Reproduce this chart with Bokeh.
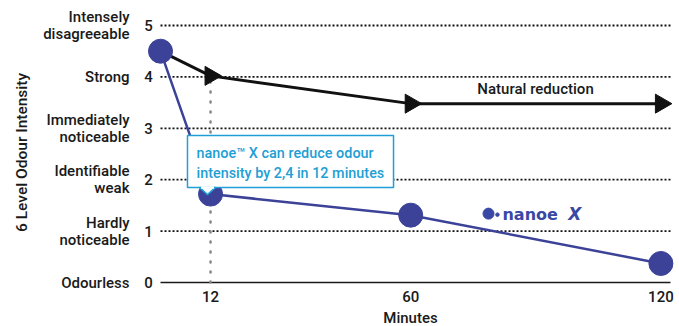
import math
from bokeh.plotting import figure
from bokeh.models import Range1d, Label
from bokeh.embed import file_html
from bokeh.resources import INLINE

# ---- data ----
minutes_ticks = [12, 60, 120]
levels = [0, 1, 2, 3, 4, 5]
level_names = [
    ["Odourless"],
    ["Hardly", "noticeable"],
    ["Identifiable", "weak"],
    ["Immediately", "noticeable"],
    ["Strong"],
    ["Intensely", "disagreeable"],
]
natural_x = [0, 12, 60, 120]
natural_y = [4.5, 4.02, 3.48, 3.48]
nanoe_x = [0, 12, 60, 120]
nanoe_y = [4.5, 1.72, 1.31, 0.37]

# ---- layout (frame covers the whole canvas) ----
W, H = 679, 326
ZERO_X_PX = 160
PX_PER_MIN = 4.17
ZERO_Y_PX = 282
PX_PER_LEVEL = 51.4
x_start = -ZERO_X_PX / PX_PER_MIN
x_end = (W - ZERO_X_PX) / PX_PER_MIN
y_end = ZERO_Y_PX / PX_PER_LEVEL
y_start = -(H - ZERO_Y_PX) / PX_PER_LEVEL
grid_end = 122.3

BLUE = "#3b4298"
CYAN = "#1f9fd5"
DARK = "#1a1a1a"
FONT = "Roboto Medium"

p = figure(width=W, height=H, x_range=Range1d(x_start, x_end), y_range=Range1d(y_start, y_end),
           output_backend="svg", toolbar_location=None,
           min_border_left=0, min_border_right=0, min_border_top=0, min_border_bottom=0)
p.outline_line_color = None
p.xgrid.visible = False
p.ygrid.visible = False
p.xaxis.visible = False
p.yaxis.visible = False
p.background_fill_color = "white"
p.border_fill_color = "white"

# grid (dotted) from x=0 to right edge
grid_levels = levels[1:]
p.segment(x0=[0] * len(grid_levels), y0=grid_levels, x1=[grid_end] * len(grid_levels), y1=grid_levels,
          line_color="#111111", line_width=1.8, line_dash="2 2")
# base axis line
p.segment(x0=[0], y0=[levels[0]], x1=[grid_end], y1=[levels[0]], line_color=DARK, line_width=1.5)

# vertical dotted guide at 12 minutes
p.segment(x0=[minutes_ticks[0]], y0=[levels[0]], x1=[minutes_ticks[0]], y1=[natural_y[1]],
          line_color="#888888", line_width=2.5, line_dash="1 9", line_cap="round")

# natural reduction series
p.line(natural_x, natural_y, line_color="#111111", line_width=3)
p.scatter(natural_x[1:], natural_y[1:], marker="triangle", size=19, angle=-math.pi / 2,
          fill_color="#111111", line_color="#111111")

# nanoe X series
p.line(nanoe_x, nanoe_y, line_color=BLUE, line_width=2.5)
p.scatter(nanoe_x, nanoe_y, marker="circle", size=24, fill_color=BLUE, line_color=BLUE)

# callout box
bx0, bx1, by0, by1 = 6.47, 55.88, 1.85, 2.86
p.quad(left=[bx0], right=[bx1], bottom=[by0], top=[by1], fill_color="white",
       line_color=CYAN, line_width=1.5)
p.patch([9.35, 11.27, 13.19], [by0, 1.71, by0], fill_color="white", line_color=CYAN, line_width=1.5)
p.segment(x0=[9.7], y0=[by0], x1=[12.85], y1=[by0], line_color="white", line_width=2.5)
p.add_layout(Label(x=8.63, y=2.51, text="nanoe™ X can reduce odour", text_font=FONT,
                   text_font_size="14.4px", text_color=CYAN, text_baseline="middle", text_align="left"))
p.add_layout(Label(x=8.63, y=2.12, text="intensity by 2,4 in 12 minutes", text_font=FONT,
                   text_font_size="14.4px", text_color=CYAN, text_baseline="middle", text_align="left"))

# natural reduction label
p.add_layout(Label(x=89.93, y=3.77, text="Natural reduction", text_font=FONT, text_font_size="15px",
                   text_color=DARK, text_align="center", text_baseline="middle"))

# nanoe X logo
LOGO = "#3a48a5"
p.scatter([78.66], [1.34], marker="circle", size=11, fill_color=LOGO, line_color=LOGO)
p.scatter([80.8], [1.32], marker="circle", size=3.5, fill_color=LOGO, line_color=LOGO)
p.add_layout(Label(x=82.0, y=1.32, text="nanoe", text_font="DejaVu Sans", text_font_size="16px",
                   text_font_style="bold", text_color=LOGO, text_baseline="middle", text_align="left"))
p.add_layout(Label(x=97.8, y=1.33, text="X", text_font="DejaVu Sans", text_font_size="17px",
                   text_font_style="bold italic", text_color=LOGO, text_baseline="middle", text_align="left"))

# y-axis numbers and level names
num_x = -2.88
name_x = -7.43
for lv, names in zip(levels, level_names):
    p.add_layout(Label(x=num_x, y=lv, text=str(lv), text_font=FONT, text_font_size="15px",
                       text_color=DARK, text_align="center", text_baseline="middle"))
    offs = [0] if len(names) == 1 else [8.5, -8.5]
    for nm, off in zip(names, offs):
        p.add_layout(Label(x=name_x, y=lv, y_offset=off, text=nm, text_font=FONT,
                           text_font_size="15px", text_color=DARK, text_align="right",
                           text_baseline="middle"))

# x tick labels
for t in minutes_ticks:
    p.add_layout(Label(x=t, y=-0.272, text=str(t), text_font=FONT, text_font_size="15px",
                       text_color=DARK, text_align="center", text_baseline="middle"))

# axis titles
p.add_layout(Label(x=-33.2, y=2.53, text="6 Level Odour Intensity", angle=math.pi / 2,
                   text_font=FONT, text_font_size="15.5px", text_color=DARK, text_align="center",
                   text_baseline="middle"))
p.add_layout(Label(x=59.95, y=-0.70, text="Minutes", text_font=FONT, text_font_size="15px",
                   text_color=DARK, text_align="center", text_baseline="middle"))

open("out.html", "w").write(file_html(p, INLINE))
